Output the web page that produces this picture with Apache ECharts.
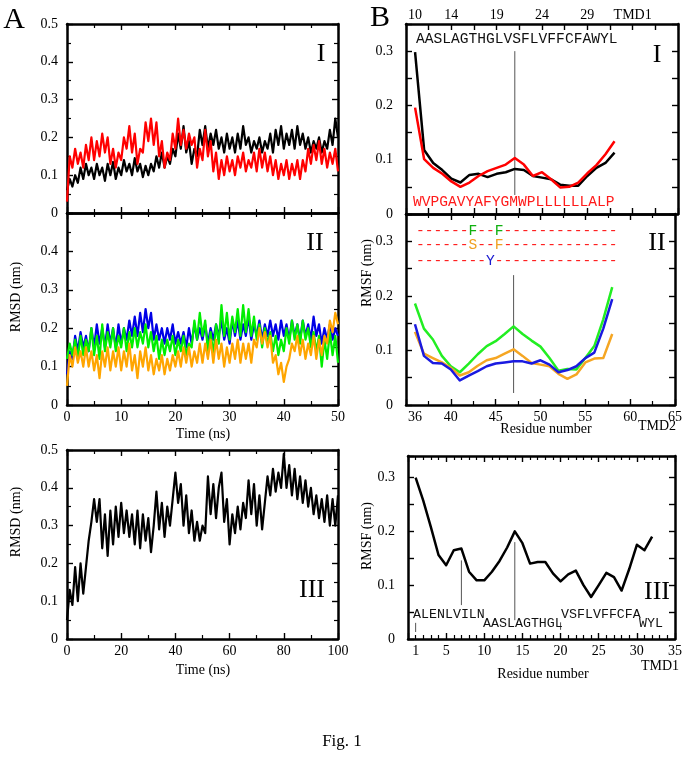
<!DOCTYPE html>
<html lang="en">
<head>
<meta charset="UTF-8">
<title>Fig. 1</title>
<script src="https://cdn.jsdelivr.net/npm/echarts@6.0.0/dist/echarts.min.js"></script>
<style>
    html, body { margin: 0; padding: 0; background: #fff; }
    #fig { width: 685px; height: 775px; }
</style>
</head>
<body>
<div id="fig"></div>
<script>
// ---------- panel A : RMSD (nm) vs time ----------
// A-I and A-II sampled every 0.5 ns (0..50), A-III every 1 ns (0..100)
var aStep = 0.5;
var aIIIStep = 1;

var aI_black = [
    0.06,0.09,0.07,0.10,0.08,0.12,0.09,0.13,0.10,0.12,
    0.09,0.13,0.10,0.12,0.085,0.13,0.10,0.135,0.09,0.12,
    0.10,0.14,0.11,0.13,0.10,0.145,0.11,0.13,0.095,0.125,
    0.10,0.13,0.11,0.15,0.12,0.16,0.12,0.15,0.13,0.17,
    0.15,0.21,0.17,0.23,0.16,0.19,0.13,0.17,0.15,0.22,
    0.18,0.23,0.17,0.21,0.18,0.22,0.17,0.20,0.16,0.21,
    0.17,0.20,0.16,0.21,0.17,0.23,0.18,0.20,0.16,0.19,
    0.17,0.20,0.16,0.19,0.17,0.21,0.16,0.22,0.18,0.23,
    0.17,0.21,0.18,0.22,0.17,0.23,0.18,0.21,0.17,0.20,
    0.16,0.19,0.17,0.20,0.16,0.19,0.17,0.22,0.18,0.25,
    0.20
];
var aI_red = [
    0.03,0.15,0.12,0.17,0.13,0.16,0.12,0.18,0.14,0.20,
    0.14,0.19,0.15,0.21,0.16,0.20,0.13,0.17,0.12,0.16,
    0.14,0.20,0.17,0.23,0.16,0.21,0.13,0.17,0.16,0.24,
    0.19,0.25,0.18,0.24,0.15,0.19,0.12,0.16,0.14,0.21,
    0.17,0.25,0.18,0.22,0.17,0.21,0.18,0.20,0.12,0.17,
    0.14,0.22,0.15,0.19,0.11,0.16,0.09,0.14,0.10,0.15,
    0.11,0.14,0.10,0.15,0.12,0.16,0.11,0.14,0.12,0.16,
    0.11,0.17,0.12,0.16,0.11,0.15,0.10,0.14,0.09,0.13,
    0.10,0.14,0.09,0.13,0.10,0.14,0.09,0.14,0.11,0.17,
    0.13,0.18,0.14,0.19,0.13,0.17,0.12,0.16,0.13,0.17,
    0.11
];
var aII_blue = [
    0.08,0.14,0.12,0.18,0.14,0.19,0.15,0.18,0.14,0.20,
    0.15,0.21,0.16,0.20,0.15,0.21,0.16,0.20,0.15,0.21,
    0.16,0.20,0.17,0.22,0.18,0.23,0.18,0.24,0.19,0.25,
    0.20,0.24,0.17,0.21,0.17,0.20,0.16,0.20,0.17,0.21,
    0.16,0.19,0.16,0.19,0.15,0.20,0.16,0.21,0.17,0.20,
    0.17,0.21,0.16,0.20,0.17,0.21,0.18,0.22,0.17,0.20,
    0.16,0.22,0.18,0.22,0.17,0.21,0.18,0.23,0.17,0.21,
    0.18,0.22,0.17,0.21,0.18,0.22,0.18,0.21,0.17,0.22,
    0.18,0.21,0.17,0.22,0.18,0.21,0.17,0.22,0.18,0.21,
    0.17,0.23,0.18,0.21,0.16,0.20,0.17,0.21,0.17,0.20,
    0.18
];
var aII_green = [
    0.12,0.16,0.13,0.17,0.12,0.18,0.13,0.17,0.14,0.20,
    0.13,0.18,0.12,0.21,0.14,0.19,0.15,0.20,0.14,0.18,
    0.15,0.20,0.14,0.19,0.15,0.20,0.15,0.19,0.16,0.21,
    0.15,0.19,0.14,0.18,0.12,0.17,0.13,0.17,0.14,0.18,
    0.13,0.17,0.14,0.18,0.13,0.16,0.15,0.22,0.17,0.24,
    0.18,0.22,0.14,0.19,0.13,0.21,0.16,0.26,0.18,0.24,
    0.17,0.23,0.19,0.25,0.18,0.26,0.19,0.25,0.18,0.23,
    0.17,0.21,0.15,0.20,0.16,0.19,0.14,0.18,0.13,0.17,
    0.14,0.20,0.16,0.22,0.17,0.21,0.16,0.22,0.17,0.20,
    0.15,0.19,0.14,0.18,0.10,0.17,0.12,0.19,0.13,0.18,
    0.11
];
var aII_orange = [
    0.05,0.13,0.10,0.15,0.11,0.14,0.10,0.15,0.10,0.14,
    0.09,0.13,0.07,0.14,0.10,0.15,0.09,0.14,0.10,0.15,
    0.09,0.14,0.10,0.16,0.09,0.13,0.07,0.14,0.10,0.15,
    0.09,0.13,0.08,0.12,0.09,0.13,0.08,0.12,0.09,0.13,
    0.10,0.14,0.10,0.15,0.11,0.15,0.10,0.14,0.11,0.16,
    0.11,0.16,0.12,0.17,0.11,0.17,0.12,0.16,0.10,0.15,
    0.11,0.16,0.12,0.17,0.11,0.16,0.12,0.16,0.11,0.17,
    0.15,0.20,0.16,0.19,0.15,0.18,0.11,0.13,0.08,0.11,
    0.06,0.10,0.12,0.16,0.14,0.18,0.13,0.17,0.12,0.16,
    0.13,0.18,0.12,0.17,0.13,0.18,0.16,0.22,0.19,0.24,
    0.21
];
var aIII_black = [
    0.05,0.13,0.09,0.19,0.10,0.20,0.12,0.19,0.26,0.31,
    0.37,0.31,0.37,0.24,0.33,0.22,0.34,0.25,0.35,0.27,
    0.36,0.28,0.34,0.27,0.33,0.25,0.34,0.24,0.33,0.26,
    0.32,0.23,0.30,0.39,0.29,0.36,0.27,0.35,0.30,0.37,
    0.44,0.36,0.41,0.30,0.38,0.28,0.34,0.26,0.31,0.26,
    0.30,0.28,0.43,0.33,0.41,0.32,0.40,0.44,0.31,0.37,
    0.25,0.33,0.28,0.35,0.29,0.36,0.32,0.42,0.33,0.41,
    0.30,0.38,0.29,0.36,0.43,0.38,0.45,0.39,0.44,0.40,
    0.49,0.40,0.46,0.38,0.45,0.37,0.43,0.36,0.42,0.35,
    0.40,0.33,0.38,0.32,0.37,0.31,0.38,0.30,0.37,0.30,
    0.38
];

// ---------- panel B : RMSF (nm) per residue ----------
var bI_firstRes = 10;      // TMD1 residues 10..32
var bI_black = [0.298,0.118,0.094,0.081,0.065,0.058,0.072,0.074,0.068,0.074,0.077,0.083,
                0.081,0.070,0.067,0.064,0.054,0.052,0.052,0.070,0.085,0.094,0.113];
var bI_red   = [0.196,0.101,0.085,0.074,0.060,0.050,0.058,0.070,0.079,0.085,0.091,0.103,
                0.091,0.070,0.077,0.064,0.049,0.050,0.058,0.075,0.090,0.110,0.134];
var bII_firstRes = 36;     // TMD2 residues 36..58
var bII_green  = [0.186,0.140,0.120,0.090,0.071,0.060,0.076,0.093,0.108,0.117,0.130,0.144,
                  0.130,0.118,0.107,0.086,0.063,0.066,0.065,0.086,0.108,0.157,0.216];
var bII_orange = [0.134,0.094,0.086,0.078,0.068,0.054,0.060,0.072,0.082,0.086,0.094,0.102,
                  0.090,0.077,0.074,0.071,0.057,0.048,0.056,0.078,0.085,0.086,0.130];
var bII_blue   = [0.148,0.090,0.077,0.076,0.065,0.045,0.054,0.062,0.071,0.076,0.078,0.080,
                  0.080,0.076,0.082,0.074,0.060,0.064,0.071,0.086,0.096,0.140,0.194];
var bIII_firstRes = 1;     // residues 1..32
var bIII_black = [0.300,0.257,0.208,0.156,0.137,0.165,0.168,0.125,0.109,0.109,0.125,0.145,
                  0.170,0.200,0.178,0.140,0.143,0.143,0.122,0.107,0.120,0.127,0.100,0.078,
                  0.100,0.123,0.115,0.090,0.130,0.175,0.165,0.190];

// thin marker lines [residue, from, to]
var bI_marks   = [[21, 0.035, 0.300]];
var bII_marks  = [[47, 0.022, 0.238]];
var bIII_marks = [[1, 0.013, 0.030], [7, 0.063, 0.146], [14, 0.035, 0.180], [20, 0.017, 0.031]];

// tick labels
var bI_topLabels   = [10, 14, 19, 24, 29, 34];
var bII_xLabels    = [36, 40, 45, 50, 55, 60, 65];
var bIII_xLabels   = [1, 5, 10, 15, 20, 25, 30, 35];

var serif = '"Liberation Serif", "Times New Roman", serif';
var mono = '"Liberation Mono", "Courier New", monospace';
var ink = '#000';

function toPairs(vals, x0, dx) {
    return vals.map(function (v, i) { return [x0 + i * dx, v]; });
}

function axis(grid, pos, o) {
    var a = {
        type: 'value', gridIndex: grid, position: pos,
        min: o.min, max: o.max,
        axisLine: { show: true, onZero: false, lineStyle: { color: ink, width: 2.5 } },
        axisTick: { show: true, inside: true, length: 6, lineStyle: { color: ink, width: 1.4 } },
        minorTick: { show: !!o.minor, splitNumber: o.minor || 2, length: 4, lineStyle: { color: ink, width: 1.2 } },
        splitLine: { show: false },
        axisLabel: {
            show: !!o.label, color: ink, fontFamily: serif, fontSize: 14,
            margin: o.margin || 5, showMaxLabel: o.showMax !== false
        }
    };
    if (o.interval) a.interval = o.interval;
    if (o.formatter) a.axisLabel.formatter = o.formatter;
    if (o.tickValues) a.axisTick.customValues = o.tickValues;
    if (o.labelValues) a.axisLabel.customValues = o.labelValues;
    return a;
}

function tenths(v) {
    var k = Math.round(v * 100);
    return k % 10 === 0 ? String(k / 100) : '';
}

var grids = [
    { left: 67, top: 24, width: 271, height: 189 },   // A-I
    { left: 67, top: 213, width: 271, height: 192 },  // A-II
    { left: 67, top: 450, width: 271, height: 189 },  // A-III
    { left: 406, top: 24, width: 272, height: 190 },  // B-I
    { left: 406, top: 214, width: 272, height: 191 }, // B-II
    { left: 408, top: 456, width: 270, height: 183 }  // B-III
];

var bITicks = [];
for (var t = 9; t <= 39; t += 2.5) bITicks.push(t);

var xAxes = [
    axis(0, 'bottom', { min: 0, max: 50, interval: 10, minor: 2 }),
    axis(0, 'top',    { min: 0, max: 50, interval: 10, minor: 2 }),
    axis(1, 'bottom', { min: 0, max: 50, interval: 10, minor: 2, label: true, margin: 5 }),
    axis(1, 'top',    { min: 0, max: 50, interval: 10, minor: 2 }),
    axis(2, 'bottom', { min: 0, max: 100, interval: 20, minor: 2, label: true, margin: 5 }),
    axis(2, 'top',    { min: 0, max: 100, interval: 20, minor: 2 }),
    axis(3, 'bottom', { min: 9, max: 39, tickValues: bITicks }),
    axis(3, 'top',    { min: 9, max: 39, tickValues: bITicks, label: true, margin: 2,
                        labelValues: bI_topLabels,
                        formatter: function (v) { return v === 34 ? 'TMD1' : String(v); } }),
    axis(4, 'bottom', { min: 35, max: 65, interval: 5, minor: 2, label: true, margin: 5, labelValues: bII_xLabels }),
    axis(4, 'top',    { min: 35, max: 65, interval: 5, minor: 2 }),
    axis(5, 'bottom', { min: 0, max: 35, interval: 5, minor: 5, label: true, margin: 5, labelValues: bIII_xLabels }),
    axis(5, 'top',    { min: 0, max: 35, interval: 5, minor: 5 })
];

var yAxes = [
    axis(0, 'left',  { min: 0, max: 0.5, interval: 0.1, minor: 2, label: true, margin: 9 }),
    axis(0, 'right', { min: 0, max: 0.5, interval: 0.1, minor: 2 }),
    axis(1, 'left',  { min: 0, max: 0.5, interval: 0.1, minor: 2, label: true, margin: 9, showMax: false }),
    axis(1, 'right', { min: 0, max: 0.5, interval: 0.1, minor: 2 }),
    axis(2, 'left',  { min: 0, max: 0.5, interval: 0.1, minor: 2, label: true, margin: 9 }),
    axis(2, 'right', { min: 0, max: 0.5, interval: 0.1, minor: 2 }),
    axis(3, 'left',  { min: 0, max: 0.35, interval: 0.05, label: true, margin: 13, formatter: tenths }),
    axis(3, 'right', { min: 0, max: 0.35, interval: 0.05 }),
    axis(4, 'left',  { min: 0, max: 0.35, interval: 0.05, label: true, margin: 13, formatter: tenths }),
    axis(4, 'right', { min: 0, max: 0.35, interval: 0.05 }),
    axis(5, 'left',  { min: 0, max: 0.34, interval: 0.05, label: true, margin: 13, formatter: tenths }),
    axis(5, 'right', { min: 0, max: 0.34, interval: 0.05 })
];

function line(axisIdx, data, color, width) {
    return {
        type: 'line', xAxisIndex: axisIdx, yAxisIndex: axisIdx, data: data,
        showSymbol: false, symbol: 'none', silent: true,
        lineStyle: { color: color, width: width, join: 'round' }, z: 3
    };
}

function markLines(axisIdx, marks) {
    return marks.map(function (m) {
        return {
            type: 'line', xAxisIndex: axisIdx, yAxisIndex: axisIdx,
            data: [[m[0], m[1]], [m[0], m[2]]],
            showSymbol: false, symbol: 'none', silent: true,
            lineStyle: { color: '#555', width: 1 }, z: 2
        };
    });
}

var series = [
    line(0, toPairs(aI_black, 0, aStep), '#000', 2.2),
    line(0, toPairs(aI_red, 0, aStep), '#ff0000', 2.2),
    line(2, toPairs(aII_blue, 0, aStep), '#0000e6', 2.2),
    line(2, toPairs(aII_green, 0, aStep), '#00ee00', 2.2),
    line(2, toPairs(aII_orange, 0, aStep), '#ffa500', 2.2),
    line(4, toPairs(aIII_black, 0, aIIIStep), '#000', 2.2),
    line(6, toPairs(bI_black, bI_firstRes, 1), '#000', 2.5),
    line(6, toPairs(bI_red, bI_firstRes, 1), '#ff0000', 2.5),
    line(8, toPairs(bII_green, bII_firstRes, 1), '#22ee22', 2.5),
    line(8, toPairs(bII_orange, bII_firstRes, 1), '#f5a623', 2.5),
    line(8, toPairs(bII_blue, bII_firstRes, 1), '#1a1ae0', 2.5),
    line(10, toPairs(bIII_black, bIII_firstRes, 1), '#000', 2.5)
].concat(markLines(6, bI_marks), markLines(8, bII_marks), markLines(10, bIII_marks));

function txt(x, y, s, font, color, extra) {
    var e = {
        type: 'text', x: x, y: y, z: 10,
        style: {
            text: s, font: font, fill: color || ink,
            align: 'left', verticalAlign: 'middle', textAlign: 'left', textVerticalAlign: 'middle'
        }
    };
    if (extra) {
        for (var k in extra) {
            if (k === 'style') { for (var j in extra.style) e.style[j] = extra.style[j]; }
            else e[k] = extra[k];
        }
    }
    return e;
}
function ctxt(x, y, s, font, color) {
    return txt(x, y, s, font, color, { style: { align: 'center', textAlign: 'center' } });
}
function vtxt(x, y, s) {
    return txt(x, y, s, '14px ' + serif, ink, {
        rotation: Math.PI / 2, style: { align: 'center', textAlign: 'center' }
    });
}

var seqFont = '14.6px ' + mono;
var seqFontS = '13.3px ' + mono;
var richRows = {
    r: { fill: '#ff2020', font: seqFont },
    g: { fill: '#10b010', font: seqFont },
    o: { fill: '#f0a020', font: seqFont },
    b: { fill: '#1a1ad0', font: seqFont }
};
function richRow(x, y, s) {
    return { type: 'text', x: x, y: y, z: 10,
             style: { text: s, rich: richRows, font: seqFont,
                      align: 'left', verticalAlign: 'middle', textAlign: 'left', textVerticalAlign: 'middle' } };
}

var graphics = [
    ctxt(14, 20, 'A', '30px ' + serif),
    ctxt(380, 18, 'B', '30px ' + serif),
    ctxt(321, 54, 'I', '26px ' + serif),
    ctxt(315, 243, 'II', '26px ' + serif),
    ctxt(312, 590, 'III', '26px ' + serif),
    ctxt(657, 55, 'I', '26px ' + serif),
    ctxt(657, 243, 'II', '26px ' + serif),
    ctxt(657, 592, 'III', '26px ' + serif),
    vtxt(16, 297, 'RMSD (nm)'),
    vtxt(16, 522, 'RMSD (nm)'),
    vtxt(367, 273, 'RMSF (nm)'),
    vtxt(367, 536, 'RMSF (nm)'),
    ctxt(203, 434, 'Time (ns)', '14px ' + serif),
    ctxt(203, 670, 'Time (ns)', '14px ' + serif),
    ctxt(546, 429, 'Residue number', '14px ' + serif),
    ctxt(657, 426, 'TMD2', '14px ' + serif),
    ctxt(543, 674, 'Residue number', '14px ' + serif),
    ctxt(660, 666, 'TMD1', '14px ' + serif),
    ctxt(342, 742, 'Fig. 1', '17px ' + serif),
    txt(416, 39, 'AASLAGTHGLVSFLVFFCFAWYL', seqFont, '#111'),
    txt(413, 202, 'WVPGAVYAFYGMWPLLLLLLALP', seqFont, '#ff1a1a'),
    richRow(416, 231, '{r|------}{g|F}{r|--}{g|F}{r|-------------}'),
    richRow(416, 245, '{r|------}{o|S}{r|--}{o|F}{r|-------------}'),
    richRow(416, 261, '{r|--------}{b|Y}{r|--------------}'),
    txt(413, 614, 'ALENLVILN', seqFontS, '#111'),
    txt(483, 623, 'AASLAGTHGL', seqFontS, '#111'),
    txt(561, 614, 'VSFLVFFCFA', seqFontS, '#111'),
    txt(639, 623, 'WYL', seqFontS, '#111')
];

var chart = echarts.init(document.getElementById('fig'), null, { renderer: 'canvas' });
chart.setOption({
    animation: false,
    backgroundColor: '#fff',
    grid: grids,
    xAxis: xAxes,
    yAxis: yAxes,
    series: series,
    graphic: { elements: graphics }
});
</script>
</body>
</html>
